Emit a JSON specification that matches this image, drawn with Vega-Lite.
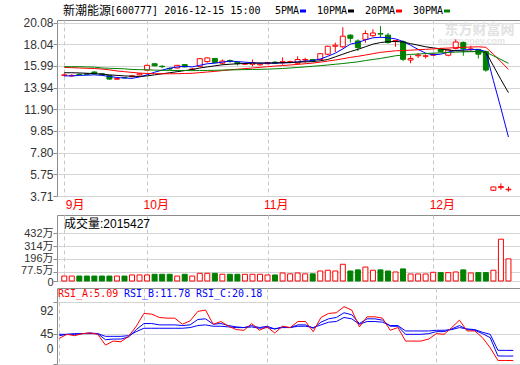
{
  "$schema": "https://vega.github.io/schema/vega-lite/v6.json",
  "background": "#ffffff",
  "padding": {"left": 0, "top": 4, "right": 0, "bottom": 0},
  "bounds": "flush",
  "spacing": 19,
  "resolve": {"scale": {"color": "independent"}, "legend": {"color": "independent"}},
  "config": {
    "view": {"stroke": "#8c8c8c", "strokeWidth": 1},
    "axis": {"labelFont": "Liberation Sans, Noto Sans CJK SC", "labelFontSize": 12, "labelColor": "#333333", "gridColor": "#d4d4d4", "tickColor": "#8c8c8c", "title": null, "labelOverlap": false, "labelFlush": false}
  },
  "datasets": {
    "k": [
      {"i":0,"date":"2016-09-14","o":15.10,"h":15.30,"l":15.00,"c":15.15,"m5":15.05,"m10":15.35,"m20":15.85,"m30":15.92,"v":45,"ra":38,"rb":42,"rc":44},
      {"i":1,"date":"2016-09-19","o":15.05,"h":15.20,"l":14.98,"c":15.10,"m5":15.05,"m10":15.35,"m20":15.83,"m30":15.92,"v":45,"ra":44,"rb":44,"rc":44},
      {"i":2,"date":"2016-09-20","o":15.20,"h":15.28,"l":15.08,"c":15.15,"m5":15.10,"m10":15.33,"m20":15.80,"m30":15.92,"v":45,"ra":42,"rb":44,"rc":45},
      {"i":3,"date":"2016-09-21","o":15.25,"h":15.32,"l":15.12,"c":15.20,"m5":15.12,"m10":15.30,"m20":15.77,"m30":15.90,"v":45,"ra":45,"rb":45,"rc":45},
      {"i":4,"date":"2016-09-22","o":15.42,"h":15.48,"l":15.20,"c":15.25,"m5":15.15,"m10":15.27,"m20":15.75,"m30":15.88,"v":45,"ra":46,"rb":46,"rc":45},
      {"i":5,"date":"2016-09-23","o":15.25,"h":15.32,"l":15.12,"c":15.20,"m5":15.10,"m10":15.22,"m20":15.70,"m30":15.80,"v":45,"ra":44,"rb":45,"rc":45},
      {"i":6,"date":"2016-09-26","o":15.08,"h":15.12,"l":14.70,"c":14.75,"m5":15.00,"m10":15.15,"m20":15.62,"m30":15.77,"v":45,"ra":28,"rb":36,"rc":41},
      {"i":7,"date":"2016-09-27","o":14.74,"h":14.82,"l":14.70,"c":14.80,"m5":14.90,"m10":15.10,"m20":15.52,"m30":15.75,"v":45,"ra":34,"rb":37,"rc":41},
      {"i":8,"date":"2016-09-28","o":14.90,"h":14.95,"l":14.82,"c":14.87,"m5":14.85,"m10":15.05,"m20":15.45,"m30":15.72,"v":45,"ra":33,"rb":37,"rc":41},
      {"i":9,"date":"2016-09-29","o":14.98,"h":15.15,"l":14.92,"c":15.05,"m5":14.82,"m10":15.02,"m20":15.38,"m30":15.66,"v":55,"ra":41,"rb":40,"rc":42},
      {"i":10,"date":"2016-09-30","o":15.15,"h":15.32,"l":15.10,"c":15.25,"m5":14.95,"m10":15.00,"m20":15.32,"m30":15.64,"v":55,"ra":56,"rb":51,"rc":48},
      {"i":11,"date":"2016-10-10","o":15.60,"h":16.10,"l":15.55,"c":16.05,"m5":15.15,"m10":15.05,"m20":15.28,"m30":15.62,"v":55,"ra":75,"rb":60,"rc":53},
      {"i":12,"date":"2016-10-11","o":16.20,"h":16.22,"l":15.96,"c":16.00,"m5":15.40,"m10":15.15,"m20":15.26,"m30":15.60,"v":61,"ra":74,"rb":60,"rc":53},
      {"i":13,"date":"2016-10-12","o":15.96,"h":16.06,"l":15.80,"c":15.92,"m5":15.60,"m10":15.25,"m20":15.25,"m30":15.58,"v":61,"ra":69,"rb":58,"rc":53},
      {"i":14,"date":"2016-10-13","o":15.76,"h":15.84,"l":15.62,"c":15.70,"m5":15.78,"m10":15.35,"m20":15.25,"m30":15.57,"v":61,"ra":68,"rb":58,"rc":53},
      {"i":15,"date":"2016-10-14","o":15.80,"h":16.08,"l":15.75,"c":16.05,"m5":15.90,"m10":15.45,"m20":15.26,"m30":15.56,"v":45,"ra":68,"rb":58,"rc":53},
      {"i":16,"date":"2016-10-17","o":16.12,"h":16.16,"l":15.86,"c":15.90,"m5":15.95,"m10":15.55,"m20":15.28,"m30":15.56,"v":61,"ra":59,"rb":57,"rc":53},
      {"i":17,"date":"2016-10-18","o":15.65,"h":15.80,"l":15.55,"c":15.70,"m5":15.90,"m10":15.65,"m20":15.30,"m30":15.55,"v":45,"ra":64,"rb":58,"rc":54},
      {"i":18,"date":"2016-10-19","o":15.95,"h":16.72,"l":15.90,"c":16.68,"m5":16.05,"m10":15.80,"m20":15.36,"m30":15.56,"v":70,"ra":78,"rb":66,"rc":57},
      {"i":19,"date":"2016-10-20","o":16.40,"h":16.80,"l":16.30,"c":16.75,"m5":16.20,"m10":15.90,"m20":15.42,"m30":15.57,"v":70,"ra":80,"rb":67,"rc":58},
      {"i":20,"date":"2016-10-21","o":16.70,"h":16.74,"l":16.28,"c":16.32,"m5":16.25,"m10":16.00,"m20":15.48,"m30":15.58,"v":70,"ra":59,"rb":59,"rc":56},
      {"i":21,"date":"2016-10-24","o":16.25,"h":16.60,"l":16.10,"c":16.45,"m5":16.35,"m10":16.10,"m20":15.55,"m30":15.60,"v":61,"ra":63,"rb":60,"rc":56},
      {"i":22,"date":"2016-10-25","o":16.50,"h":16.60,"l":16.30,"c":16.42,"m5":16.45,"m10":16.15,"m20":15.62,"m30":15.62,"v":61,"ra":56,"rb":57,"rc":55},
      {"i":23,"date":"2016-10-26","o":16.35,"h":16.42,"l":16.05,"c":16.20,"m5":16.40,"m10":16.20,"m20":15.68,"m30":15.63,"v":61,"ra":51,"rb":55,"rc":54},
      {"i":24,"date":"2016-10-27","o":16.15,"h":16.28,"l":16.08,"c":16.22,"m5":16.35,"m10":16.22,"m20":15.74,"m30":15.65,"v":61,"ra":50,"rb":54,"rc":54},
      {"i":25,"date":"2016-10-28","o":16.15,"h":16.60,"l":15.95,"c":16.30,"m5":16.30,"m10":16.25,"m20":15.80,"m30":15.66,"v":61,"ra":60,"rb":57,"rc":55},
      {"i":26,"date":"2016-10-31","o":16.10,"h":16.25,"l":16.02,"c":16.18,"m5":16.25,"m10":16.27,"m20":15.86,"m30":15.67,"v":61,"ra":50,"rb":54,"rc":53},
      {"i":27,"date":"2016-11-01","o":16.20,"h":16.38,"l":16.15,"c":16.30,"m5":16.25,"m10":16.27,"m20":15.92,"m30":15.69,"v":55,"ra":55,"rb":56,"rc":54},
      {"i":28,"date":"2016-11-02","o":16.35,"h":16.42,"l":16.18,"c":16.25,"m5":16.25,"m10":16.28,"m20":15.98,"m30":15.72,"v":55,"ra":46,"rb":52,"rc":52},
      {"i":29,"date":"2016-11-03","o":16.30,"h":16.80,"l":16.10,"c":16.40,"m5":16.28,"m10":16.30,"m20":16.03,"m30":15.75,"v":73,"ra":56,"rb":55,"rc":54},
      {"i":30,"date":"2016-11-04","o":16.32,"h":16.50,"l":16.25,"c":16.40,"m5":16.30,"m10":16.32,"m20":16.08,"m30":15.80,"v":65,"ra":54,"rb":54,"rc":54},
      {"i":31,"date":"2016-11-07","o":16.25,"h":16.90,"l":16.10,"c":16.60,"m5":16.38,"m10":16.35,"m20":16.14,"m30":15.85,"v":73,"ra":63,"rb":58,"rc":56},
      {"i":32,"date":"2016-11-08","o":16.55,"h":16.77,"l":16.30,"c":16.60,"m5":16.45,"m10":16.38,"m20":16.20,"m30":15.90,"v":65,"ra":63,"rb":58,"rc":56},
      {"i":33,"date":"2016-11-09","o":16.60,"h":16.65,"l":16.35,"c":16.50,"m5":16.50,"m10":16.40,"m20":16.26,"m30":15.96,"v":65,"ra":48,"rb":53,"rc":54},
      {"i":34,"date":"2016-11-10","o":16.60,"h":17.20,"l":16.55,"c":17.15,"m5":16.65,"m10":16.48,"m20":16.35,"m30":16.02,"v":91,"ra":69,"rb":62,"rc":58},
      {"i":35,"date":"2016-11-11","o":17.10,"h":17.90,"l":17.00,"c":17.85,"m5":16.90,"m10":16.60,"m20":16.45,"m30":16.08,"v":98,"ra":75,"rb":67,"rc":62},
      {"i":36,"date":"2016-11-14","o":17.85,"h":18.20,"l":17.30,"c":17.95,"m5":17.20,"m10":16.85,"m20":16.55,"m30":16.15,"v":91,"ra":76,"rb":69,"rc":63},
      {"i":37,"date":"2016-11-15","o":17.80,"h":19.65,"l":17.70,"c":18.80,"m5":17.60,"m10":17.10,"m20":16.67,"m30":16.22,"v":152,"ra":85,"rb":76,"rc":69},
      {"i":38,"date":"2016-11-16","o":18.90,"h":18.98,"l":18.20,"c":18.60,"m5":18.05,"m10":17.35,"m20":16.80,"m30":16.30,"v":91,"ra":80,"rb":73,"rc":67},
      {"i":39,"date":"2016-11-17","o":18.35,"h":18.50,"l":17.40,"c":17.72,"m5":18.20,"m10":17.56,"m20":16.90,"m30":16.38,"v":101,"ra":55,"rb":60,"rc":59},
      {"i":40,"date":"2016-11-18","o":18.50,"h":19.35,"l":18.18,"c":19.05,"m5":18.45,"m10":17.80,"m20":17.02,"m30":16.50,"v":127,"ra":70,"rb":67,"rc":63},
      {"i":41,"date":"2016-11-21","o":18.85,"h":19.45,"l":18.75,"c":19.10,"m5":18.65,"m10":18.05,"m20":17.15,"m30":16.60,"v":98,"ra":70,"rb":67,"rc":63},
      {"i":42,"date":"2016-11-22","o":19.05,"h":19.75,"l":18.65,"c":19.00,"m5":18.70,"m10":18.20,"m20":17.27,"m30":16.70,"v":101,"ra":68,"rb":65,"rc":62},
      {"i":43,"date":"2016-11-23","o":18.90,"h":19.10,"l":18.10,"c":18.20,"m5":18.65,"m10":18.28,"m20":17.35,"m30":16.82,"v":91,"ra":50,"rb":56,"rc":57},
      {"i":44,"date":"2016-11-24","o":18.30,"h":18.45,"l":17.80,"c":18.40,"m5":18.55,"m10":18.30,"m20":17.42,"m30":16.95,"v":82,"ra":54,"rb":56,"rc":57},
      {"i":45,"date":"2016-11-25","o":18.28,"h":18.40,"l":16.45,"c":16.62,"m5":18.30,"m10":18.25,"m20":17.45,"m30":17.02,"v":110,"ra":34,"rb":44,"rc":49},
      {"i":46,"date":"2016-11-28","o":16.55,"h":16.99,"l":16.24,"c":16.70,"m5":17.95,"m10":18.10,"m20":17.48,"m30":17.08,"v":64,"ra":34,"rb":44,"rc":49},
      {"i":47,"date":"2016-11-29","o":16.95,"h":17.20,"l":16.75,"c":17.02,"m5":17.55,"m10":17.95,"m20":17.52,"m30":17.12,"v":64,"ra":34,"rb":44,"rc":49},
      {"i":48,"date":"2016-11-30","o":16.90,"h":17.10,"l":16.70,"c":16.95,"m5":17.20,"m10":17.80,"m20":17.56,"m30":17.16,"v":64,"ra":37,"rb":45,"rc":49},
      {"i":49,"date":"2016-12-01","o":17.00,"h":17.20,"l":16.95,"c":17.10,"m5":17.05,"m10":17.70,"m20":17.60,"m30":17.20,"v":79,"ra":45,"rb":48,"rc":50},
      {"i":50,"date":"2016-12-02","o":17.60,"h":17.70,"l":17.25,"c":17.35,"m5":17.10,"m10":17.60,"m20":17.65,"m30":17.23,"v":76,"ra":44,"rb":48,"rc":50},
      {"i":51,"date":"2016-12-05","o":17.00,"h":17.60,"l":16.90,"c":17.50,"m5":17.30,"m10":17.50,"m20":17.68,"m30":17.26,"v":76,"ra":54,"rb":52,"rc":51},
      {"i":52,"date":"2016-12-06","o":17.65,"h":18.50,"l":17.55,"c":18.25,"m5":17.45,"m10":17.42,"m20":17.72,"m30":17.30,"v":82,"ra":65,"rb":57,"rc":54},
      {"i":53,"date":"2016-12-07","o":18.20,"h":18.30,"l":16.95,"c":17.60,"m5":17.50,"m10":17.40,"m20":17.75,"m30":17.32,"v":101,"ra":49,"rb":51,"rc":52},
      {"i":54,"date":"2016-12-08","o":17.55,"h":17.90,"l":17.40,"c":17.60,"m5":17.55,"m10":17.38,"m20":17.78,"m30":17.34,"v":73,"ra":49,"rb":50,"rc":51},
      {"i":55,"date":"2016-12-09","o":17.55,"h":17.60,"l":16.70,"c":17.10,"m5":17.55,"m10":17.35,"m20":17.80,"m30":17.34,"v":76,"ra":39,"rb":45,"rc":47},
      {"i":56,"date":"2016-12-12","o":17.35,"h":17.45,"l":15.45,"c":15.60,"m5":17.35,"m10":17.30,"m20":17.75,"m30":17.32,"v":76,"ra":24,"rb":39,"rc":44},
      {"i":57,"date":"2016-12-13","o":4.25,"h":4.60,"l":4.20,"c":4.56,"m5":14.60,"m10":16.00,"m20":17.10,"m30":16.95,"v":98,"ra":5.3,"rb":11.9,"rc":20.3},
      {"i":58,"date":"2016-12-14","o":4.50,"h":4.90,"l":4.30,"c":4.60,"m5":12.00,"m10":14.70,"m20":16.40,"m30":16.60,"v":380,"ra":5.2,"rb":11.8,"rc":20.2},
      {"i":59,"date":"2016-12-15","o":4.30,"h":4.60,"l":4.12,"c":4.35,"m5":9.28,"m10":13.47,"m20":15.67,"m30":16.24,"v":201.5,"ra":5.09,"rb":11.78,"rc":20.18}
    ]
  },
  "vconcat": [
    {
      "width": 463,
      "height": 176,
      "data": {"name": "k"},
      "layer": [
        {
          "data": {"values": [{"t": "东方财富网"}]},
          "mark": {"type": "text", "align": "left", "baseline": "middle", "fontSize": 14, "fontWeight": "bold", "font": "Noto Sans CJK SC", "color": "#e2e2e2"},
          "encoding": {"x": {"datum": 50.5, "type": "quantitative"}, "y": {"datum": 19.4, "type": "quantitative"}, "text": {"field": "t"}}
        },
        {
          "data": {"values": [{"t": "eastmoney.com"}]},
          "mark": {"type": "text", "align": "left", "baseline": "middle", "fontSize": 9, "fontWeight": "bold", "font": "Liberation Sans", "color": "#e6e6e6"},
          "encoding": {"x": {"datum": 49.6, "type": "quantitative"}, "y": {"datum": 18.3, "type": "quantitative"}, "text": {"field": "t"}}
        },
        {
          "mark": {"type": "rule", "strokeWidth": 1},
          "encoding": {
            "x": {"field": "i", "type": "quantitative", "scale": {"domain": [-0.3, 59.87], "nice": false, "zero": false},
              "axis": {"values": [0, 11, 27, 49], "tickCount": 60, "labelExpr": "datum.value == 0 ? '9月' : datum.value == 11 ? '10月' : datum.value == 27 ? '11月' : '12月'", "grid": true, "gridDash": [4, 3], "gridColor": "#c8c8c8", "domain": false, "ticks": false, "tickSize": 0, "labelColor": "#ff0000", "labelAlign": "left", "labelBaseline": "top", "labelPadding": 3, "labelOverlap": false, "labelFlush": false, "labelOffset": {"condition": {"test": "datum.value == 0", "value": 1}, "value": -4}}},
            "y": {"field": "l", "type": "quantitative", "scale": {"domain": [3.71, 20.33], "nice": false, "zero": false},
              "axis": {"values": [3.71, 5.75, 7.8, 9.85, 11.9, 13.94, 15.99, 18.04, 20.08], "tickCount": 60, "format": ".2f", "grid": true, "domain": false, "tickSize": 4, "labelPadding": 0, "labelOverlap": false, "minExtent": 56, "maxExtent": 56}},
            "y2": {"field": "h"},
            "color": {"condition": {"test": "datum.c >= datum.o", "value": "#ff0000"}, "value": "#008000"}
          }
        },
        {
          "mark": {"type": "bar", "width": 5, "strokeWidth": 1},
          "encoding": {
            "x": {"field": "i", "type": "quantitative"},
            "y": {"field": "o", "type": "quantitative"},
            "y2": {"field": "c"},
            "fill": {"condition": {"test": "datum.c >= datum.o", "value": "#ffffff"}, "value": "#008000"},
            "stroke": {"condition": {"test": "datum.c >= datum.o", "value": "#ff0000"}, "value": "#008000"}
          }
        },
        {
          "transform": [{"fold": ["m5", "m10", "m20", "m30"], "as": ["ma", "val"]}],
          "mark": {"type": "line", "strokeWidth": 1},
          "encoding": {
            "x": {"field": "i", "type": "quantitative"},
            "y": {"field": "val", "type": "quantitative"},
            "color": {"field": "ma", "type": "nominal",
              "scale": {"domain": ["m5", "m10", "m20", "m30"], "range": ["#0000ff", "#000000", "#ff0000", "#008000"]},
              "legend": {"orient": "none", "legendX": 241, "legendY": -14, "direction": "horizontal", "title": null, "padding": 0,
                "symbolType": "stroke", "symbolSize": 36, "symbolStrokeWidth": 3, "symbolOffset": 0,
                "labelAlign": "right", "labelOffset": -9, "labelFont": "DejaVu Sans Mono", "labelFontSize": 10, "labelColor": "#000000",
                "columnPadding": 4,
                "labelExpr": "datum.label == 'm5' ? '5PMA' : datum.label == 'm10' ? '10PMA' : datum.label == 'm20' ? '20PMA' : '30PMA'"}}
          }
        },
        {
          "data": {"values": [{"t": "新潮能源"}]},
          "mark": {"type": "text", "align": "left", "baseline": "middle", "fontSize": 12, "font": "Noto Sans CJK SC", "color": "#000000"},
          "encoding": {"x": {"datum": -0.17, "type": "quantitative"}, "y": {"datum": 21.18, "type": "quantitative"}, "text": {"field": "t"}}
        },
        {
          "data": {"values": [{"t": "[600777] 2016-12-15 15:00"}]},
          "mark": {"type": "text", "align": "left", "baseline": "middle", "fontSize": 10, "font": "DejaVu Sans Mono", "color": "#000000"},
          "encoding": {"x": {"datum": 6.07, "type": "quantitative"}, "y": {"datum": 21.18, "type": "quantitative"}, "text": {"field": "t"}}
        }
      ]
    },
    {
      "bounds": "flush",
      "spacing": 7,
      "vconcat": [
        {
          "width": 463,
          "height": 66,
          "data": {"name": "k"},
          "layer": [
            {
              "mark": {"type": "bar", "width": 5, "strokeWidth": 1},
              "encoding": {
                "x": {"field": "i", "type": "quantitative", "scale": {"domain": [-0.3, 59.87], "nice": false, "zero": false},
                  "axis": {"values": [0, 11, 27, 49], "tickCount": 60, "grid": true, "gridDash": [4, 3], "gridColor": "#c8c8c8", "labels": false, "ticks": false, "domain": false}},
                "y": {"field": "v", "type": "quantitative", "scale": {"domain": [0, 600], "nice": false},
                  "axis": {"values": [0, 77.5, 196, 314, 432], "tickCount": 60, "labelExpr": "datum.value == 0 ? '0' : datum.value + '万'", "grid": true, "domain": false, "tickSize": 4, "labelPadding": 0, "labelOverlap": false, "labelFontSize": 11, "minExtent": 56, "maxExtent": 56,
                    "labelOffset": {"condition": [{"test": "datum.value == 77.5", "value": -2}, {"test": "datum.value == 196", "value": -1}, {"test": "datum.value == 0", "value": 1}], "value": 0}}},
                "fill": {"condition": {"test": "datum.c >= datum.o", "value": "#ffffff"}, "value": "#008000"},
                "stroke": {"condition": {"test": "datum.c >= datum.o", "value": "#ff0000"}, "value": "#008000"}
              }
            },
            {
              "data": {"values": [{"t": "成交量:2015427"}]},
              "mark": {"type": "text", "align": "left", "baseline": "middle", "fontSize": 12, "font": "Liberation Sans, Noto Sans CJK SC", "color": "#000000"},
              "encoding": {"x": {"datum": -0.04, "type": "quantitative"}, "y": {"datum": 515, "type": "quantitative"}, "text": {"field": "t"}}
            }
          ]
        },
        {
          "width": 463,
          "height": 76,
          "data": {"name": "k"},
          "layer": [
            {
              "mark": {"type": "line", "color": "#0000ff", "strokeWidth": 1},
              "encoding": {
                "x": {"field": "i", "type": "quantitative", "scale": {"domain": [-0.3, 59.87], "nice": false, "zero": false},
                  "axis": {"values": [0, 11, 27, 49], "tickCount": 60, "grid": true, "gridDash": [4, 3], "gridColor": "#c8c8c8", "labels": false, "ticks": false, "domain": false}},
                "y": {"field": "rc", "type": "quantitative", "scale": {"domain": [0, 112.7], "nice": false},
                  "axis": {"values": [0, 45, 92], "tickCount": 60, "grid": true, "domain": false, "tickSize": 4, "labelPadding": 0, "labelOverlap": false, "minExtent": 56, "maxExtent": 56,
                    "labelOffset": {"condition": [{"test": "datum.value == 92", "value": 9}, {"test": "datum.value == 0", "value": -16}], "value": 0}}}
              }
            },
            {
              "mark": {"type": "line", "color": "#0000ff", "strokeWidth": 1},
              "encoding": {"x": {"field": "i", "type": "quantitative"}, "y": {"field": "rb", "type": "quantitative"}}
            },
            {
              "mark": {"type": "line", "color": "#ff0000", "strokeWidth": 1},
              "encoding": {"x": {"field": "i", "type": "quantitative"}, "y": {"field": "ra", "type": "quantitative"}}
            },
            {
              "data": {"values": [{"t": "RSI_A:5.09"}]},
              "mark": {"type": "text", "align": "left", "baseline": "middle", "fontSize": 10, "font": "DejaVu Sans Mono", "color": "#ff0000"},
              "encoding": {"x": {"datum": -0.17, "type": "quantitative"}, "y": {"datum": 103.8, "type": "quantitative"}, "text": {"field": "t"}}
            },
            {
              "data": {"values": [{"t": "RSI_B:11.78"}]},
              "mark": {"type": "text", "align": "left", "baseline": "middle", "fontSize": 10, "font": "DejaVu Sans Mono", "color": "#0000ff"},
              "encoding": {"x": {"datum": 8.41, "type": "quantitative"}, "y": {"datum": 103.8, "type": "quantitative"}, "text": {"field": "t"}}
            },
            {
              "data": {"values": [{"t": "RSI_C:20.18"}]},
              "mark": {"type": "text", "align": "left", "baseline": "middle", "fontSize": 10, "font": "DejaVu Sans Mono", "color": "#0000ff"},
              "encoding": {"x": {"datum": 17.76, "type": "quantitative"}, "y": {"datum": 103.8, "type": "quantitative"}, "text": {"field": "t"}}
            }
          ]
        }
      ]
    }
  ]
}
